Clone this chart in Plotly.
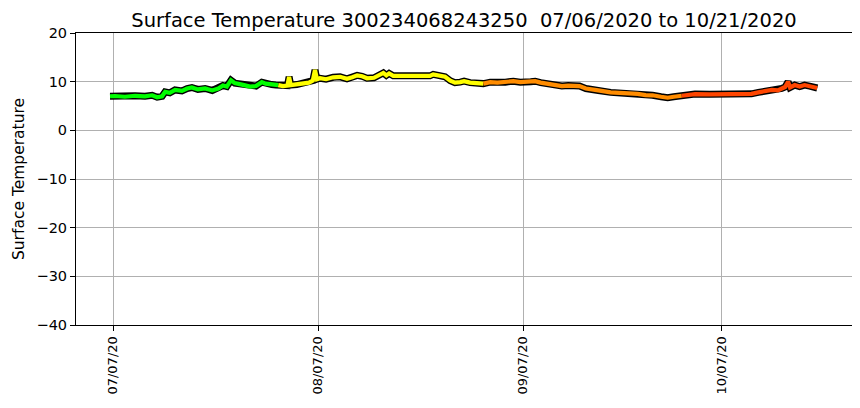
import plotly.graph_objects as go
import pandas as pd

title_text = "Surface Temperature 300234068243250\u00a0 07/06/2020 to 10/21/2020"
y_label = "Surface Temperature"

times = [
    "2020-07-06 13:00", "2020-07-07 07:00", "2020-07-08 19:00", "2020-07-10 08:00",
    "2020-07-11 20:00", "2020-07-12 22:00", "2020-07-13 16:00", "2020-07-14 10:00",
    "2020-07-14 21:00", "2020-07-15 14:00", "2020-07-16 09:00", "2020-07-17 10:00",
    "2020-07-18 05:00", "2020-07-18 22:00", "2020-07-19 20:00", "2020-07-20 22:00",
    "2020-07-22 00:00", "2020-07-22 22:00", "2020-07-23 15:00", "2020-07-24 05:00",
    "2020-07-24 20:00", "2020-07-25 10:00", "2020-07-26 12:00", "2020-07-27 17:00",
    "2020-07-28 15:00", "2020-07-29 12:00", "2020-07-30 02:00", "2020-07-31 00:00",
    "2020-07-31 15:00",
    "2020-08-01 00:00", "2020-08-01 17:00", "2020-08-02 09:00", "2020-08-02 15:00",
    "2020-08-02 21:00", "2020-08-03 19:00", "2020-08-04 17:00", "2020-08-05 15:00",
    "2020-08-06 05:00", "2020-08-06 13:00", "2020-08-06 20:00", "2020-08-07 07:00",
    "2020-08-08 05:00", "2020-08-09 07:00", "2020-08-10 08:00", "2020-08-11 09:00",
    "2020-08-12 04:00", "2020-08-12 22:00", "2020-08-13 16:00", "2020-08-14 10:00",
    "2020-08-15 11:00", "2020-08-16 10:00", "2020-08-16 21:00", "2020-08-17 08:00",
    "2020-08-17 18:00", "2020-08-18 09:00", "2020-08-19 02:00", "2020-08-20 22:00",
    "2020-08-22 10:00", "2020-08-23 22:00", "2020-08-24 10:00", "2020-08-25 10:00",
    "2020-08-26 05:00", "2020-08-27 00:00", "2020-08-27 17:00", "2020-08-28 12:00",
    "2020-08-29 02:00", "2020-08-30 00:00", "2020-08-31 08:00",
    "2020-09-01 00:00", "2020-09-02 01:00", "2020-09-03 03:00", "2020-09-04 08:00",
    "2020-09-05 13:00", "2020-09-06 14:00", "2020-09-08 04:00", "2020-09-08 20:00",
    "2020-09-09 16:00", "2020-09-11 07:00", "2020-09-12 21:00", "2020-09-13 20:00",
    "2020-09-14 16:00", "2020-09-15 13:00", "2020-09-16 12:00", "2020-09-17 11:00",
    "2020-09-18 09:00", "2020-09-20 06:00", "2020-09-22 05:00", "2020-09-23 06:00",
    "2020-09-24 08:00", "2020-09-25 13:00", "2020-09-26 14:00", "2020-09-27 21:00",
    "2020-09-28 21:00", "2020-09-29 19:00",
    "2020-10-01 00:00", "2020-10-03 00:00", "2020-10-05 06:00", "2020-10-07 08:00",
    "2020-10-09 05:00", "2020-10-10 11:00", "2020-10-11 13:00", "2020-10-12 14:00",
    "2020-10-13 20:00", "2020-10-14 15:00", "2020-10-15 13:00", "2020-10-16 03:00",
    "2020-10-16 15:00", "2020-10-17 02:00", "2020-10-17 09:00", "2020-10-18 02:00",
    "2020-10-18 20:00", "2020-10-19 14:00", "2020-10-20 08:00", "2020-10-21 02:00",
    "2020-10-21 12:00",
]

temps = [
    7.0, 7.05, 6.9, 7.1,
    7.0, 7.2, 6.8, 7.0,
    7.9, 7.7, 8.3, 8.1,
    8.6, 8.8, 8.4, 8.6,
    8.2, 8.6, 9.2, 9.0,
    10.3, 9.7, 9.4, 9.0,
    9.1, 9.9, 9.6, 9.4,
    9.3,
    9.3, 9.1, 9.2, 11.0,
    9.3, 9.4, 9.6, 9.8,
    10.2, 12.4, 10.5, 10.7,
    10.5, 10.9, 11.0, 10.6,
    10.9, 11.3, 11.1, 10.7,
    10.8, 11.4, 11.8, 11.3,
    11.7, 11.2, 11.2, 11.1,
    11.1, 11.2, 11.5, 11.2,
    11.0, 10.2, 9.8, 9.9,
    10.1, 9.8, 9.7,
    9.6, 9.9, 9.8, 9.9,
    10.1, 9.9, 10.0, 10.1,
    9.8, 9.4, 9.1, 9.2,
    9.2, 9.1, 8.6, 8.5,
    8.2, 7.8, 7.7, 7.6,
    7.5, 7.25, 7.2, 6.9,
    6.7, 6.9,
    7.1, 7.45, 7.4, 7.45,
    7.35, 7.4, 7.5, 7.8,
    8.0, 8.3, 8.2, 8.6,
    8.9, 10.0, 8.8, 9.3,
    9.0, 9.3, 9.1, 9.0,
    8.7,
]

month_colors = {7: "#00ff00", 8: "#ffff00", 9: "#ff8c00", 10: "#ff4500"}

tick_dates = ["2020-07-07", "2020-08-07", "2020-09-07", "2020-10-07"]
tick_labels = ["07/07/20", "08/07/20", "09/07/20", "10/07/20"]
y_ticks = [-40, -30, -20, -10, 0, 10, 20]

df = pd.DataFrame({"t": pd.to_datetime(times), "v": temps})
df["m"] = df["t"].dt.month

fig = go.Figure()
# black outline
fig.add_trace(go.Scatter(x=df["t"], y=df["v"], mode="lines",
                         line=dict(color="black", width=7),
                         hoverinfo="skip", showlegend=False))
months = sorted(df["m"].unique())
for i, m in enumerate(months):
    seg = df[df["m"] == m]
    if i + 1 < len(months):
        nxt = df[df["m"] == months[i + 1]].iloc[:1]
        seg = pd.concat([seg, nxt])
    fig.add_trace(go.Scatter(x=seg["t"], y=seg["v"], mode="lines",
                             line=dict(color=month_colors[m], width=4.2),
                             showlegend=False))

axis_common = dict(showline=True, linecolor="black", linewidth=1, mirror=True,
                   ticks="outside", ticklen=5, tickcolor="black", automargin=False,
                   showgrid=True, gridcolor="#b0b0b0", gridwidth=1, zeroline=False)

# page body has an 8px margin, so figure is sized/offset to compensate
fig.update_layout(
    width=852, height=400,
    margin=dict(l=68, r=8, t=25, b=83, autoexpand=False),
    paper_bgcolor="white", plot_bgcolor="white",
    font=dict(family="DejaVu Sans", color="black", size=14),
    title=dict(text=title_text, xref="paper", x=0.5, xanchor="center",
               yref="container", y=0.97, yanchor="middle",
               font=dict(size=19.5, family="DejaVu Sans", color="black")),
    xaxis=dict(range=["2020-07-01 09:36", "2020-10-26 18:00"],
               tickvals=tick_dates, ticktext=tick_labels, tickangle=-90,
               tickfont=dict(size=13), **axis_common),
    yaxis=dict(range=[-40, 20], tickvals=y_ticks, tickfont=dict(size=14.5),
               title=dict(text=y_label, font=dict(size=15.5), standoff=8),
               **axis_common),
)

fig.write_html("out.html")
